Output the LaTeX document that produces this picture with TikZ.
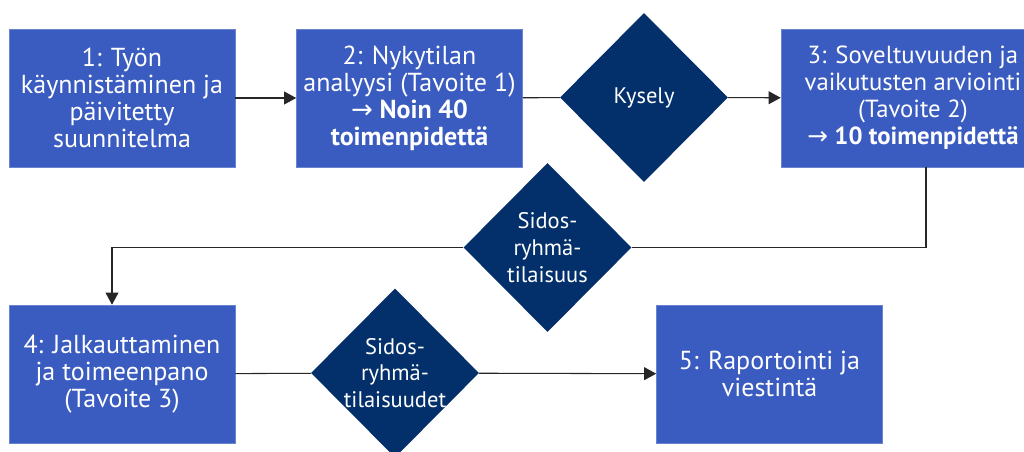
\documentclass[tikz,border=0pt]{standalone}
\usepackage{fontspec}
\setmainfont{PT Sans}
\newfontfamily\arrowfont{DejaVu Sans}
\usetikzlibrary{arrows.meta,positioning,shapes.geometric}
\definecolor{stepblue}{HTML}{3A5BBF}
\definecolor{gatenavy}{HTML}{03306A}
\newcommand{\toarr}{{\arrowfont\mdseries →}}

\begin{document}
\begin{tikzpicture}[
  x=0.025cm, y=-0.025cm,
  box/.style={fill=stepblue,draw=stepblue!75!white,line width=0.4pt,text=white,align=center,
    font=\fontsize{18.5}{19.2}\selectfont,minimum width=5.65cm,minimum height=3.45cm,inner sep=1pt},
  gate/.style={diamond,fill=gatenavy,text=white,align=center,
    font=\fontsize{16}{19}\selectfont,inner sep=-8pt,minimum width=4.2cm,minimum height=4.225cm},
  arr/.style={-{Triangle[length=3mm,width=3.2mm]},line width=0.75pt,draw=black!85},
  link/.style={line width=0.75pt,draw=black!85}
]
\useasboundingbox (0,0) rectangle (1024,452);

% upper row
\node[box] (s1) at (122,98) {1: Työn\\käynnistäminen ja\\päivitetty\\suunnitelma};
\node[box] (s2) at (409.5,98) {2: Nykytilan\\analyysi (Tavoite 1)\\\textbf{\toarr\ Noin 40}\\\textbf{toimenpidettä}};
\node[gate] (kys) at (644,97.5) {Kysely};
\node[box,minimum width=6.6cm,font=\fontsize{17.6}{19.2}\selectfont] (s3) at (913,98) {3: Soveltuvuuden ja\\vaikutusten arviointi\\(Tavoite 2)\\\textbf{\toarr\ 10 toimenpidettä}};

% middle
\node[gate] (sid1) at (547.5,247.5) {Sidos-\\ryhmä-\\tilaisuus};

% lower row
\node[box] (s4) at (122,374) {4: Jalkauttaminen\\ja toimeenpano\\(Tavoite 3)};
\node[gate] (sid2) at (395,373) {Sidos-\\ryhmä-\\tilaisuudet};
\node[box] (s5) at (769.5,374) {5: Raportointi ja\\viestintä};

\draw[arr] (s1) -- (s2);
\draw[link] (s2) -- (kys);
\draw[arr] (kys) -- (s3);
\draw[link] ([xshift=0.325cm]s3.south) |- (sid1.east);
\draw[arr] (sid1.west) -| ([xshift=-0.25cm]s4.north);
\draw[link] (s4) -- (sid2);
\draw[arr] (sid2) -- (s5);
\end{tikzpicture}
\end{document}
